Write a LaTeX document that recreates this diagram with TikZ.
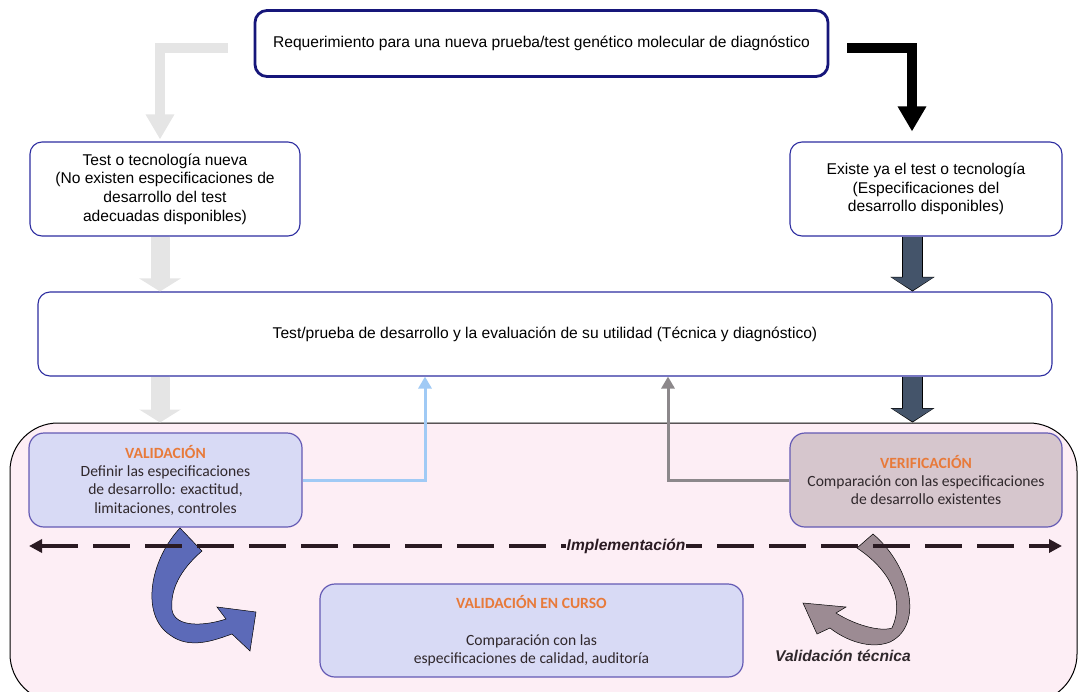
\documentclass[tikz,border=0pt]{standalone}
\usepackage{fontspec}
\setmainfont{Liberation Sans}
\newfontfamily\calib{Carlito}
\usetikzlibrary{arrows.meta}
\definecolor{marino}{RGB}{22,22,122}
\definecolor{azulborde}{RGB}{45,45,160}
\definecolor{lila}{RGB}{100,90,180}
\definecolor{lavanda}{RGB}{216,218,245}
\definecolor{malva}{RGB}{214,198,205}
\definecolor{rosa}{RGB}{253,238,245}
\definecolor{grisclaro}{RGB}{229,229,229}
\definecolor{pizarra}{RGB}{68,84,106}
\definecolor{naranja}{RGB}{232,122,58}
\definecolor{textogris}{RGB}{48,40,44}
\definecolor{celeste}{RGB}{160,202,245}
\definecolor{grismedio}{RGB}{140,136,139}
\definecolor{azulcurva}{RGB}{92,106,184}
\definecolor{malvacurva}{RGB}{156,139,147}
\definecolor{trazo}{RGB}{42,26,34}

\begin{document}
\begin{tikzpicture}[x=1pt,y=-1pt,font=\fontsize{15.6}{18.6}\selectfont,
    caja/.style={draw=azulborde,line width=1.1pt,rounded corners=12pt,fill=white,align=center,inner sep=0pt},
    cajaval/.style={draw=lila,line width=1.2pt,rounded corners=15pt,align=center,inner sep=0pt,
        text=textogris,font=\calib\fontsize{15.6}{18.3}\selectfont},
    codo/.style={line width=10pt,-{Triangle[width=27pt,length=25pt]}},
    bloque/.style={line width=19pt,-{Triangle[width=41pt,length=13pt]}},
    bloqueborde/.style={line width=20.6pt,-{Triangle[width=43.5pt,length=14.5pt]}},
    conector/.style={line width=3pt,-{Triangle[width=13pt,length=12pt]}},
    implem/.style={trazo,line width=4pt,dash pattern=on 37pt off 15pt,
        {Triangle[width=13pt,length=13pt]}-{Triangle[width=13pt,length=13pt]}}]
\useasboundingbox (0,0) rectangle (1079,691);

\node[draw=black,line width=1pt,fill=rosa,rounded corners=48pt,minimum width=1067pt,
      minimum height=279pt,inner sep=0pt] (marco) at (543.5,562.5) {};

\node[caja,draw=marino,line width=2.8pt,minimum width=573pt,minimum height=66pt] (req) at (541.5,43.5)
    {Requerimiento para una nueva prueba/test genético molecular de diagnóstico};
\node[caja,minimum width=270pt,minimum height=94pt] (nueva) at (165,189)
    {Test o tecnología nueva\\(No existen especificaciones de\\desarrollo del test\\adecuadas disponibles)};
\node[caja,minimum width=272pt,minimum height=94pt] (existe) at (926,189)
    {Existe ya el test o tecnología\\(Especificaciones del\\desarrollo disponibles)};
\node[caja,minimum width=1014pt,minimum height=84pt] (desa) at (545,334)
    {Test/prueba de desarrollo y la evaluación de su utilidad (Técnica y diagnóstico)};

\node[cajaval,fill=lavanda,minimum width=273pt,minimum height=94pt] (valid) at (165.5,480)
    {\textcolor{naranja}{\bfseries VALIDACIÓN}\\Definir las especificaciones\\de desarrollo: exactitud,\\limitaciones, controles};
\node[cajaval,fill=malva,minimum width=272pt,minimum height=94pt] (verif) at (926,480)
    {\textcolor{naranja}{\bfseries VERIFICACIÓN}\\Comparación con las especificaciones\\de desarrollo existentes};
\node[cajaval,fill=lavanda,minimum width=423pt,minimum height=93pt] (curso) at (531.5,630.5)
    {\textcolor{naranja}{\bfseries VALIDACIÓN EN CURSO}\\[19pt]Comparación con las\\especificaciones de calidad, auditoría};

% flechas de arriba
\draw[codo,grisclaro,shorten >=2pt] ([xshift=-26pt,yshift=-4.5pt]req.west) -| ([xshift=-5pt]nueva.north);
\draw[codo,black,shorten >=10pt] ([xshift=18pt,yshift=-4.5pt]req.east) -| ([xshift=-14pt]existe.north);

\draw[bloque,grisclaro] ([xshift=-5pt]nueva.south) -- ([xshift=-5pt]nueva.south |- desa.north);
\draw[bloque,grisclaro] ([xshift=-5pt]nueva.south |- desa.south) -- ([xshift=-5pt]nueva.south |- marco.north);
\draw[bloqueborde,black] ([xshift=-13.5pt]existe.south) -- ([xshift=-13.5pt]existe.south |- desa.north);
\draw[bloque,pizarra,shorten >=1pt] ([xshift=-13.5pt]existe.south) -- ([xshift=-13.5pt]existe.south |- desa.north);
\draw[bloqueborde,black] ([xshift=-13.5pt]verif.north |- desa.south) -- ([xshift=-13.5pt]verif.north |- marco.north);
\draw[bloque,pizarra,shorten >=1pt] ([xshift=-13.5pt]verif.north |- desa.south) -- ([xshift=-13.5pt]verif.north |- marco.north);

\draw[conector,celeste] (valid.east) -| ([xshift=-120pt]desa.south);
\draw[conector,grismedio] (verif.west) -| ([xshift=123pt]desa.south);

% flechas curvas
\fill[azulcurva,draw=black,line width=0.5pt] (180,528) .. controls (150,560) and (140,615) .. (170,635)
    .. controls (190,650) and (215,640) .. (232,634) -- (250,651) -- (256,612) -- (217,607) -- (226,619)
    .. controls (205,626) and (175,628) .. (172,610) .. controls (170,590) and (180,570) .. (202,551) -- cycle;
\fill[malvacurva,draw=black,line width=0.5pt] (873,534) .. controls (910,565) and (925,625) .. (890,642)
    .. controls (870,650) and (845,640) .. (830,628) -- (817,634) -- (803,603) -- (846,607) -- (836,613)
    .. controls (855,625) and (880,632) .. (892,628) .. controls (905,600) and (890,570) .. (857,548) -- cycle;

\coordinate (impI) at (29,546);
\coordinate (impD) at (1062,546);
\draw[implem] (impI) -- node[pos=0.578,fill=rosa,inner xsep=1pt,inner ysep=2pt,text=trazo,
    font=\bfseries\itshape\fontsize{15.6}{18}\selectfont] (implab) {Implementación} (impD);

\node[text=textogris,font=\bfseries\itshape\fontsize{15.6}{18}\selectfont] (vtec) at (843,656) {Validación técnica};
\end{tikzpicture}
\end{document}
